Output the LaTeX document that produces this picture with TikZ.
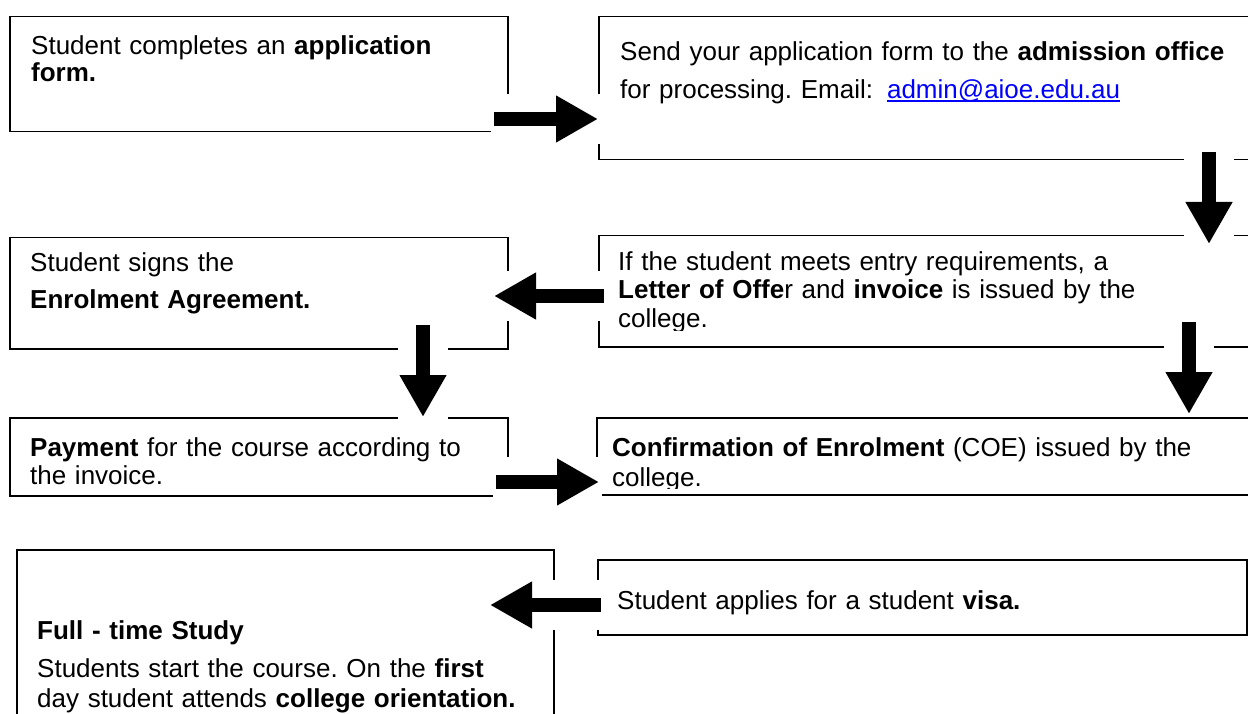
\documentclass[tikz,border=0pt]{standalone}
\usepackage{fontspec}
\setmainfont{Liberation Sans}
\usetikzlibrary{arrows.meta,calc}

\definecolor{linkblue}{RGB}{0,0,255}
\frenchspacing

% blue underlined e-mail address
\newcommand\weblink[1]{\textcolor{linkblue}{\setbox0\hbox{#1}\rlap{\rule[-3pt]{\wd0}{1.5pt}}\box0}}

\begin{document}
\begin{tikzpicture}[x=1pt,y=-1pt,
    box/.style={draw,line width=1.5pt,inner sep=0pt,anchor=north west},
    txt/.style={anchor=base west,inner sep=0pt,text width=640pt,
        font=\fontsize{26}{28}\selectfont},
    flow/.style={preaction={draw=white,line width=50pt,arrows=-,
        shorten <=-3pt,shorten >=-3pt},
        line width=14pt,-{Triangle[length=42pt,width=44pt]}}]
\useasboundingbox (0,0) rectangle (1248,714);
\clip (0,0) rectangle (1248,714);

% left column
\node[box,minimum width=498pt,minimum height=115pt] (apply) at (9,16) {};
\node[box,minimum width=498pt,minimum height=111pt] (agree) at (9,237) {};
\node[box,minimum width=498pt,minimum height=78pt]  (pay)   at (9,417) {};
\node[box,minimum width=537pt,minimum height=190pt] (study) at (16,549) {};
% right column
\node[box,minimum width=664pt,minimum height=143pt] (send)  at (598,16) {};
\node[box,minimum width=664pt,minimum height=111pt] (offer) at (598,235) {};
\node[box,minimum width=666pt,minimum height=77pt]  (coe)   at (596,417) {};
\node[box,minimum width=649pt,minimum height=75pt]  (visa)  at (597,559) {};

% texts
\node[txt,font=\fontsize{26}{27}\selectfont] (applytxt) at ($(apply.north west)+(22,39)$)
    {Student completes an \textbf{application}\\\textbf{form.}};
\node[txt,font=\fontsize{26}{38}\selectfont] (sendtxt) at ($(send.north west)+(22,45)$)
    {Send your application form to the \textbf{admission office}\\
     for processing. Email:\hspace{14pt}\weblink{admin@aioe.edu.au}};
\begin{scope}
    \clip (offer.north west) rectangle ($(offer.south east)+(0,-17)$);
    \node[txt] (offertxt) at ($(offer.north west)+(20,36)$)
        {If the student meets entry requirements, a\\
         \textbf{Letter of Offe}r and \textbf{invoice} is issued by the\\college.};
\end{scope}
\node[txt,font=\fontsize{26}{36}\selectfont] (agreetxt) at ($(agree.north west)+(21,35)$)
    {Student signs the\\\textbf{Enrolment Agreement.}};
\node[txt] (paytxt) at ($(pay.north west)+(21,39)$)
    {\textbf{Payment} for the course according to\\the invoice.};
\begin{scope}
    \clip (coe.north west) rectangle ($(coe.south east)+(0,-7)$);
    \node[txt,font=\fontsize{26}{30}\selectfont] (coetxt) at ($(coe.north west)+(16,39)$)
        {\textbf{Confirmation of Enrolment} (COE) issued by the\\college.};
\end{scope}
\node[txt,font=\fontsize{26}{30}\selectfont] (studytxt) at ($(study.north west)+(21,90)$)
    {\textbf{Full - time Study}\\[8pt]
     Students start the course. On the \textbf{first}\\
     day student attends \textbf{college orientation.}};
\node[txt] (visatxt) at ($(visa.north west)+(20,50)$)
    {Student applies for a student \textbf{visa.}};

% block arrows
\coordinate (a1) at (494,119);  \coordinate (b1) at (598,119);
\coordinate (a2) at (1209,152); \coordinate (b2) at (1209,244);
\coordinate (a3) at (604,296);  \coordinate (b3) at (494,296);
\coordinate (a4) at (423,325);  \coordinate (b4) at (423,417);
\coordinate (a5) at (1189,322); \coordinate (b5) at (1189,414);
\coordinate (a6) at (496,482);  \coordinate (b6) at (599,482);
\coordinate (a7) at (601,605);  \coordinate (b7) at (490,605);
\foreach \i in {1,...,7}
    \draw[flow] (a\i) -- (b\i);
\end{tikzpicture}
\end{document}
